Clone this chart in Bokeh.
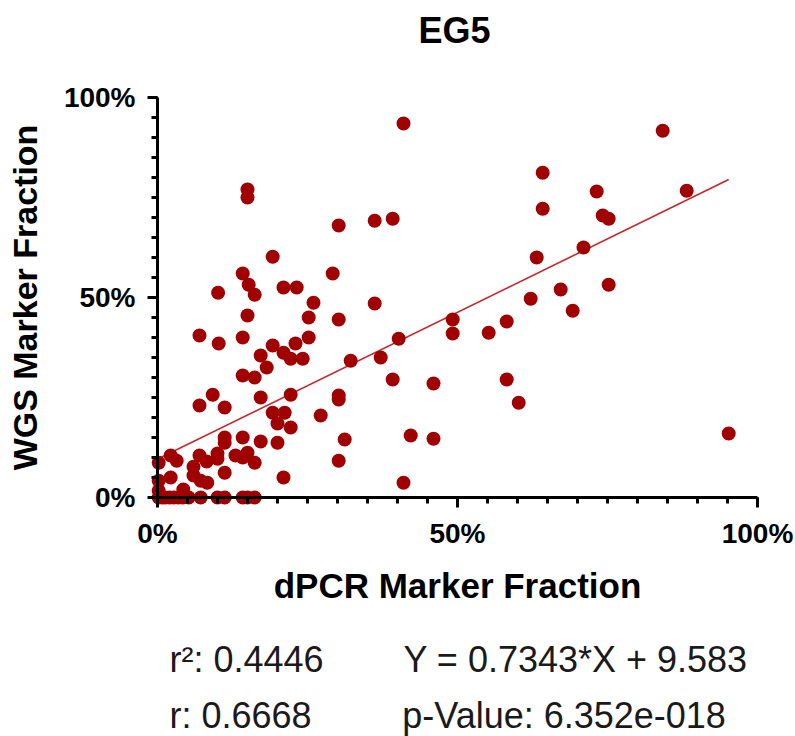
from bokeh.plotting import figure
from bokeh.models import Range1d, FixedTicker, Label
from bokeh.embed import file_html
from bokeh.resources import INLINE

# ---- data ----
dpcr = [41.0, 15.0, 15.0, 30.2, 36.2, 39.2, 19.2, 14.2, 29.2, 15.2,
        10.1, 16.2, 21.0, 23.2, 26.0, 36.2, 15.0, 25.2, 30.2, 7.0,
        14.2, 25.2, 10.2, 19.2, 23.0, 17.2, 21.0, 22.2, 24.2, 32.2,
        37.2, 40.2, 49.2, 49.2, 18.2, 14.2, 16.2, 39.2, 46.0, 9.2,
        17.2, 22.2, 30.2, 30.2, 7.0, 11.2, 27.2, 19.2, 21.2, 20.0,
        22.2, 11.2, 11.2, 14.2, 17.2, 20.0, 31.2, 42.2, 46.0, 2.2,
        3.2, 0.2, 7.0, 8.2, 10.0, 10.0, 13.0, 14.2, 15.0, 16.2,
        6.0, 11.2, 6.0, 7.2, 8.3, 2.2, 0.2, 21.0, 30.2, 41.0,
        0.2, 4.3,
        0.2, 0.8, 1.3, 2.0, 2.7, 3.5, 4.2, 5.2, 7.2, 10.0, 11.2, 14.2, 15.0, 16.2,
        84.2, 64.2, 73.2, 88.2, 64.2, 74.2, 75.2, 71.0, 63.2, 67.2,
        75.2, 62.2, 69.2, 58.2, 55.2, 58.2, 60.2, 95.2]
wgs = [93.5, 77.0, 75.0, 68.0, 69.2, 69.7, 60.2, 56.0, 56.0, 53.2,
       51.2, 50.7, 52.5, 52.5, 48.7, 48.5, 45.5, 45.0, 44.5, 40.5,
       40.0, 40.0, 38.5, 38.0, 38.5, 35.5, 36.2, 34.7, 34.7, 34.2,
       35.0, 39.7, 44.5, 41.0, 32.5, 30.5, 30.0, 29.5, 28.5, 25.7,
       25.0, 25.7, 25.5, 24.5, 23.0, 22.5, 20.5, 21.2, 21.2, 18.5,
       17.5, 15.0, 13.7, 15.0, 14.0, 13.7, 14.5, 15.5, 14.7, 10.5,
       9.2, 8.7, 10.5, 9.0, 11.0, 9.7, 10.5, 10.0, 11.2, 8.7,
       7.7, 6.2, 5.5, 4.2, 3.7, 5.0, 4.2, 5.0, 9.2, 3.7,
       1.7, 2.0,
       0.0, 0.0, 0.0, 0.0, 0.0, 0.0, 0.0, 0.0, 0.0, 0.0, 0.0, 0.0, 0.0, 0.0,
       91.7, 81.2, 76.5, 76.7, 72.2, 70.5, 69.7, 62.5, 60.0, 52.0,
       53.2, 49.7, 46.7, 44.0, 41.2, 29.5, 23.7, 16.0]

slope = 0.7343
intercept = 9.583
r2_text = "0.4446"
r_text = "0.6668"
p_text = "6.352e-018"

major_ticks = [0, 50, 100]
minor_ticks = list(range(0, 101, 5))
tick_labels = {0: "0%", 50: "50%", 100: "100%"}

title_text = "EG5"
x_title = "dPCR Marker Fraction"
y_title = "WGS Marker Fraction"

# ---- styling ----
DOT = "#A00000"
LINE = "#C8262C"
FONT = "Liberation Sans"

W, H = 795, 736
X0_PX, PX_PER_X = 157, 6.0     # where x=0 lies, pixels per unit
Y0_PX, PX_PER_Y = 497, 4.0     # where y=0 lies, pixels per unit

p = figure(width=W, height=H, output_backend="svg", toolbar_location=None,
           x_range=Range1d(-X0_PX / PX_PER_X, (W - X0_PX) / PX_PER_X),
           y_range=Range1d(-(H - Y0_PX) / PX_PER_Y, Y0_PX / PX_PER_Y),
           min_border=0, min_border_left=0, min_border_right=0,
           min_border_top=0, min_border_bottom=0)
p.outline_line_color = None
p.xgrid.visible = False
p.ygrid.visible = False
p.background_fill_color = "white"
p.border_fill_color = "white"
p.title.visible = False

for ax in (p.xaxis[0], p.yaxis[0]):
    ax.ticker = FixedTicker(ticks=major_ticks, minor_ticks=minor_ticks)
    ax.major_label_overrides = tick_labels
    ax.bounds = (0, 100)
    ax.fixed_location = 0
    ax.axis_line_width = 3
    ax.axis_line_color = "black"
    ax.major_tick_line_width = 3
    ax.minor_tick_line_width = 3
    ax.major_tick_out = 10
    ax.major_tick_in = 0
    ax.minor_tick_out = 6
    ax.minor_tick_in = 0
    ax.major_label_text_font = FONT
    ax.major_label_text_font_style = "bold"
    ax.major_label_text_font_size = "28px"
    ax.major_label_text_color = "black"
    ax.axis_label_text_font = FONT
    ax.axis_label_text_font_style = "bold"
    ax.axis_label_text_color = "black"

p.xaxis[0].axis_label = x_title
p.yaxis[0].axis_label = y_title
p.xaxis[0].axis_label_text_font_size = "35px"
p.yaxis[0].axis_label_text_font_size = "34px"
p.xaxis[0].major_label_standoff = 10
p.yaxis[0].major_label_standoff = 12
p.xaxis[0].axis_label_standoff = 14
p.yaxis[0].axis_label_standoff = 17

# regression line across the data span
x0, x1 = min(dpcr), max(dpcr)
p.line([x0, x1], [slope * x0 + intercept, slope * x1 + intercept],
       line_color=LINE, line_width=1.6)

p.scatter(dpcr, wgs, size=14, fill_color=DOT, line_color=DOT, line_width=0)

# title
p.add_layout(Label(x=49.5, y=116.75, text=title_text, text_font=FONT,
                   text_font_style="bold", text_font_size="36px",
                   text_color="black", text_align="center",
                   text_baseline="alphabetic"))

# statistics block
stats = [
    ("r\u00b2: " + r2_text, 2.0, -40.5),
    ("Y = %s*X + %s" % (slope, intercept), 41.0, -40.5),
    ("r: " + r_text, 2.0, -54.5),
    ("p-Value: " + p_text, 40.8, -54.5),
]
for txt, xx, yy in stats:
    p.add_layout(Label(x=xx, y=yy, text=txt, text_font=FONT,
                       text_font_size="36px", text_color="#1a1a1a",
                       text_baseline="alphabetic", text_align="left"))

open("out.html", "w").write(file_html(p, INLINE))
